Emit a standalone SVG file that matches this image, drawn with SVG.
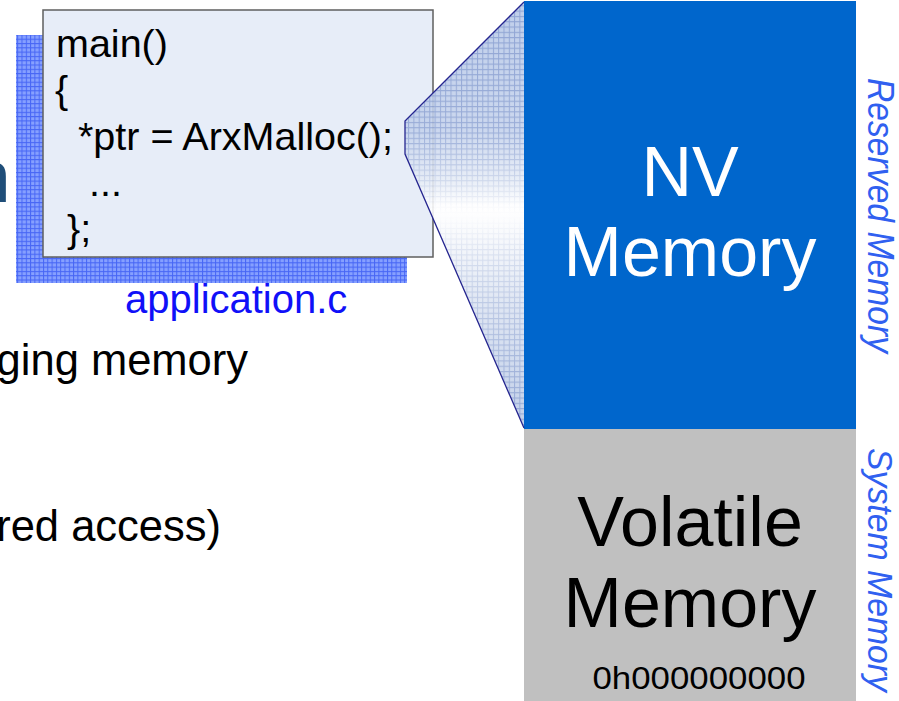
<svg xmlns="http://www.w3.org/2000/svg" width="899" height="701" viewBox="0 0 899 701">
<style>
.sans{font-family:"Liberation Sans",Arial,sans-serif}
.code{font-family:"Liberation Sans",Arial,sans-serif;font-size:39.5px;fill:#000}
.big{font-family:"Liberation Sans",Arial,sans-serif;font-size:70px;text-anchor:middle}
.side{font-family:"Liberation Sans",Arial,sans-serif;font-style:italic;fill:#3060F0}
.body{font-family:"Liberation Sans",Arial,sans-serif;font-size:43.5px;fill:#000;text-anchor:end}
</style>
<defs>
<pattern id="shadowGrid" width="4.3" height="4.3" patternUnits="userSpaceOnUse">
<rect width="4.3" height="4.3" fill="#86A0FF"/>
<path d="M0 0.5H4.3M0.5 0V4.3" stroke="#4766F5" stroke-width="1"/>
</pattern>
<pattern id="wedgeGrid" width="5.3" height="5.3" patternUnits="userSpaceOnUse">
<path d="M0 0.5H5.3M0.5 0V5.3" stroke="#6F88C4" stroke-width="1" fill="none"/>
</pattern>
<linearGradient id="wedgeFill" x1="0" y1="2" x2="0" y2="428" gradientUnits="userSpaceOnUse">
<stop offset="0" stop-color="#B7C8E8"/>
<stop offset="0.3" stop-color="#C4D2EC"/>
<stop offset="0.42" stop-color="#E6ECF6"/>
<stop offset="0.48" stop-color="#FFFFFF"/>
<stop offset="0.53" stop-color="#FAFBFD"/>
<stop offset="0.7" stop-color="#DCE4F2"/>
<stop offset="1" stop-color="#B9C9E6"/>
</linearGradient>
<linearGradient id="wedgeMaskGrad" x1="0" y1="2" x2="0" y2="428" gradientUnits="userSpaceOnUse">
<stop offset="0" stop-color="#999"/>
<stop offset="0.3" stop-color="#888"/>
<stop offset="0.45" stop-color="#222"/>
<stop offset="0.5" stop-color="#000"/>
<stop offset="0.6" stop-color="#333"/>
<stop offset="1" stop-color="#999"/>
</linearGradient>
<mask id="wedgeMask" maskUnits="userSpaceOnUse" x="0" y="0" width="899" height="701">
<rect x="380" y="0" width="150" height="440" fill="url(#wedgeMaskGrad)"/>
</mask>
</defs>

<text class="sans" x="-31" y="202" font-size="75" fill="#1F4E79">n</text>

<g id="application">
<rect x="16" y="35" width="391" height="248" fill="url(#shadowGrid)"/>
<rect x="43" y="10" width="390" height="247" fill="#E7EDF8" stroke="#5F5F5F" stroke-width="1.5"/>
<text class="code" x="56" y="57">main()</text>
<text class="code" x="55" y="103">{</text>
<text class="code" x="78" y="150">*ptr = ArxMalloc();</text>
<text class="code" x="89" y="196">...</text>
<text class="code" x="67" y="242">};</text>
<text class="sans" x="125" y="313" font-size="40" fill="#1010F8">application.c</text>
</g>

<g id="nv-memory">
<rect x="524" y="1" width="332" height="428" fill="#0066CC"/>
<text class="big" x="690" y="196" fill="#FFFFFF">NV</text>
<text class="big" x="690" y="276" fill="#FFFFFF">Memory</text>
</g>

<g id="volatile-memory">
<rect x="524" y="429" width="332" height="272" fill="#C0C0C0"/>
<text class="big" x="690" y="546" fill="#000">Volatile</text>
<text class="big" x="690" y="627" fill="#000">Memory</text>
<text class="sans" x="699" y="689" font-size="31" text-anchor="middle" textLength="213" lengthAdjust="spacingAndGlyphs" fill="#000">0h000000000</text>
</g>

<g id="connectors">
<polygon points="524,2 405,121 405,154 524,428" fill="url(#wedgeFill)" fill-opacity="0.88"/>
<polygon points="524,2 405,121 405,154 524,428" fill="url(#wedgeGrid)" mask="url(#wedgeMask)"/>
<polyline points="524,2 405,121 405,154 524,428" fill="none" stroke="#25258F" stroke-width="1.3"/>
</g>

<g id="labels">
<text class="side" transform="translate(868,78) rotate(90)" font-size="37" textLength="275" lengthAdjust="spacingAndGlyphs">Reserved Memory</text>
<text class="side" transform="translate(868,448) rotate(90)" font-size="35" textLength="244" lengthAdjust="spacingAndGlyphs">System Memory</text>
<text class="body" x="248" y="375">ging memory</text>
<text class="body" x="221" y="541">red access)</text>
</g>
</svg>
